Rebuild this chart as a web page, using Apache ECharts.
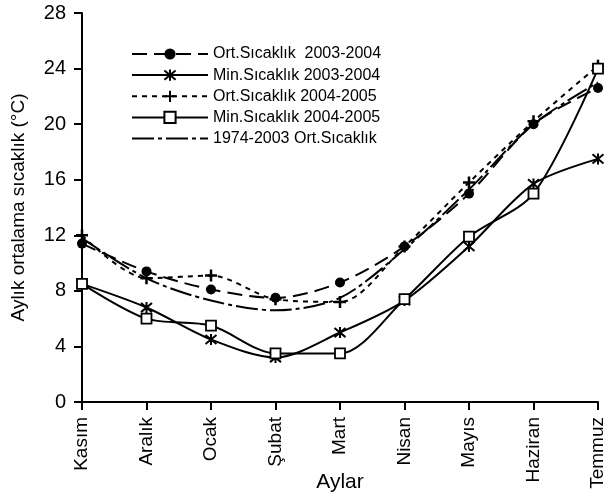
<!DOCTYPE html>
<html>
<head>
<meta charset="utf-8">
<script src="https://cdn.jsdelivr.net/npm/echarts@6/dist/echarts.min.js"></script>
<style>
html,body{margin:0;padding:0;background:#fff;}
#c{width:614px;height:498px;}
</style>
</head>
<body>
<div id="c"></div>
<script>
var categories = ['Kasım', 'Aralık', 'Ocak', 'Şubat', 'Mart', 'Nisan', 'Mayıs', 'Haziran', 'Temmuz'];
var ort0304 = [11.4, 9.4, 8.1, 7.5, 8.6, 11.2, 15.0, 20.0, 22.6];
var min0304 = [8.5, 6.8, 4.5, 3.2, 5.0, 7.3, 11.2, 15.7, 17.5];
var ort0405 = [12.0, 8.9, 9.1, 7.4, 7.2, 11.2, 15.8, 20.2, 24.2];
var min0405 = [8.5, 6.0, 5.5, 3.5, 3.5, 7.4, 11.9, 15.0, 24.0];
var uzun = [11.8, 8.9, 7.3, 6.6, 7.5, 11.0, 15.3, 20.0, 23.0];
var seriesNames = ['Ort.Sıcaklık  2003-2004', 'Min.Sıcaklık 2003-2004', 'Ort.Sıcaklık 2004-2005', 'Min.Sıcaklık 2004-2005', '1974-2003 Ort.Sıcaklık'];
var yTicks = [0, 4, 8, 12, 16, 20, 24, 28];

var FONT = 'Liberation Sans, Arial, sans-serif';
var chart = echarts.init(document.getElementById('c'));
var asterisk = 'path://M0,0L10,10M10,0L0,10M5,-1L5,11';
var plus = 'path://M5,0L5,10M0,5L10,5';
var SM = 0.3;

chart.setOption({
  animation: false,
  backgroundColor: '#fff',
  textStyle: { fontFamily: FONT, color: '#000' },
  grid: { left: 82, right: 16, top: 13, bottom: 96, containLabel: false, outerBoundsMode: 'none' },
  legend: {
    orient: 'vertical',
    left: 126,
    top: 41,
    padding: 5,
    itemWidth: 76,
    itemHeight: 14,
    itemGap: 5,
    textStyle: { fontFamily: FONT, fontSize: 16, color: '#000' },
    data: [
      seriesNames[0], seriesNames[1], seriesNames[2], seriesNames[3],
      { name: seriesNames[4], itemStyle: { opacity: 0 } }
    ]
  },
  xAxis: {
    type: 'category',
    data: categories,
    boundaryGap: false,
    name: 'Aylar',
    nameLocation: 'middle',
    nameGap: 70,
    nameMoveOverlap: false,
    nameTextStyle: { fontFamily: FONT, fontSize: 21, color: '#000' },
    axisLine: { lineStyle: { color: '#000', width: 2 } },
    axisTick: { show: true, length: 8, inside: false, alignWithLabel: true, lineStyle: { color: '#000', width: 2 } },
    axisLabel: { rotate: 90, fontFamily: FONT, fontSize: 19, color: '#000', margin: 15, interval: 0 },
    splitLine: { show: false }
  },
  yAxis: {
    type: 'value',
    min: yTicks[0],
    max: yTicks[yTicks.length - 1],
    interval: 4,
    name: 'Aylık ortalama sıcaklık (°C)',
    nameLocation: 'middle',
    nameGap: 54,
    nameMoveOverlap: false,
    nameTextStyle: { fontFamily: FONT, fontSize: 19, color: '#000' },
    axisLine: { show: true, lineStyle: { color: '#000', width: 2 } },
    axisTick: { show: true, length: 8, lineStyle: { color: '#000', width: 2 } },
    axisLabel: { fontFamily: FONT, fontSize: 20, color: '#000', margin: 16 },
    splitLine: { show: false }
  },
  series: [
    {
      name: seriesNames[4], type: 'line', data: uzun, smooth: SM,
      showSymbol: false, symbol: 'circle', symbolSize: 0,
      lineStyle: { color: '#000', width: 2, type: [22, 4, 4, 4] },
      itemStyle: { color: '#000' }, z: 2
    },
    {
      name: seriesNames[0], type: 'line', data: ort0304, smooth: SM,
      symbol: 'circle', symbolSize: 10,
      lineStyle: { color: '#000', width: 2, type: [15, 7] },
      itemStyle: { color: '#000' }, z: 3
    },
    {
      name: seriesNames[1], type: 'line', data: min0304, smooth: SM,
      symbol: asterisk, symbolSize: 11,
      lineStyle: { color: '#000', width: 2 },
      itemStyle: { color: 'none', borderColor: '#000', borderWidth: 2 }, z: 3
    },
    {
      name: seriesNames[2], type: 'line', data: ort0405, smooth: SM,
      symbol: plus, symbolSize: 12,
      lineStyle: { color: '#000', width: 2, type: [5, 5] },
      itemStyle: { color: 'none', borderColor: '#000', borderWidth: 2.5 }, z: 3
    },
    {
      name: seriesNames[3], type: 'line', data: min0405, smooth: SM,
      symbol: 'rect', symbolSize: 10,
      lineStyle: { color: '#000', width: 2 },
      itemStyle: { color: '#fff', borderColor: '#000', borderWidth: 1.8 }, z: 4
    }
  ]
});
</script>
</body>
</html>
